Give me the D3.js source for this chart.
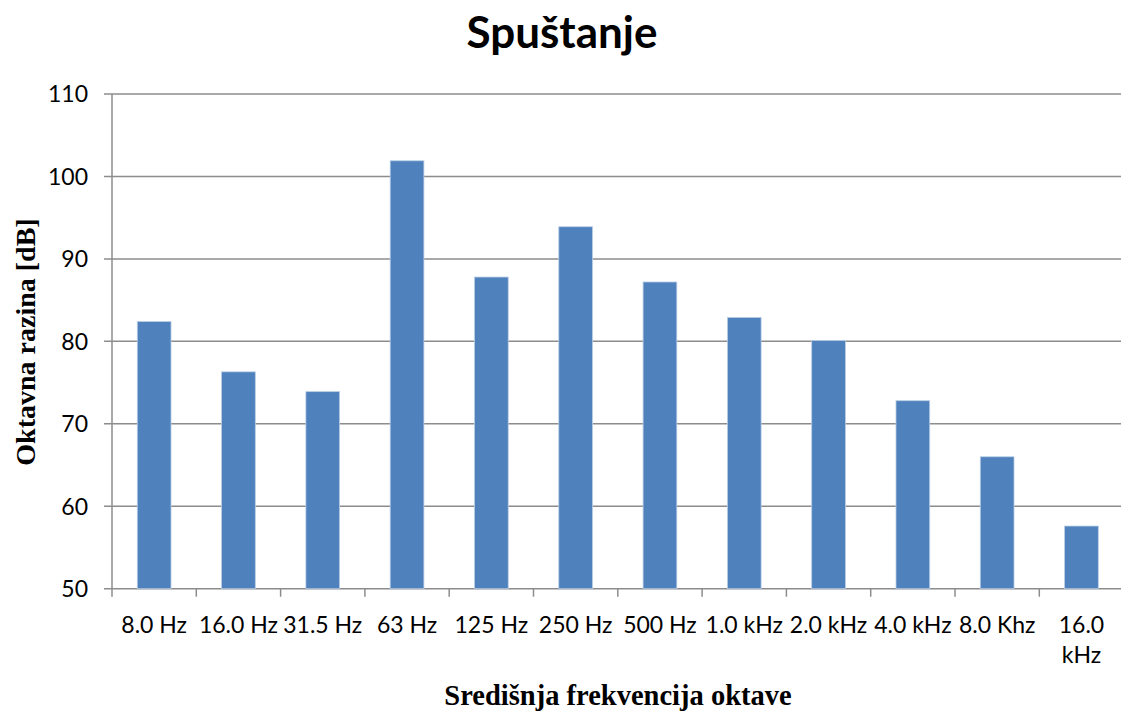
<!DOCTYPE html>
<html>
<head>
<meta charset="utf-8">
<script src="https://cdn.jsdelivr.net/npm/d3@7"></script>
<style>
	body { margin: 0; background: #fff; }
	svg { display: block; }
</style>
</head>
<body>
<svg id="svg" width="1121" height="713"></svg>
<script>
"use strict";

// chart data
const categories = ["8.0 Hz", "16.0 Hz", "31.5 Hz", "63 Hz", "125 Hz", "250 Hz", "500 Hz", "1.0 kHz", "2.0 kHz", "4.0 kHz", "8.0 Khz", "16.0 kHz"];
const values = [82.4, 76.3, 73.9, 101.9, 87.8, 93.9, 87.2, 82.9, 80.1, 72.8, 66.0, 57.6];
const yTicks = [50, 60, 70, 80, 90, 100, 110];

const svg = d3.select("#svg");

// plot area
const plot = { left: 112, top: 94, bottom: 588.7, right: 1123.6 };

const x = d3.scaleBand().domain(categories).range([plot.left, plot.right]).paddingInner(0.6).paddingOuter(0.3);
const y = d3.scaleLinear().domain([50, 110]).range([plot.bottom, plot.top]);

const gridColor = "#8c8c8c";
const labelFont = "Lato, 'Open Sans', sans-serif";
const serif = "'Liberation Serif', 'Times New Roman', serif";

// gridlines
svg.append("g")
	.selectAll("line")
	.data(yTicks)
	.enter()
	.append("line")
	.attr("x1", plot.left - 8)
	.attr("x2", plot.right)
	.attr("y1", (d) => y(d))
	.attr("y2", (d) => y(d))
	.style("stroke", gridColor)
	.style("stroke-width", "1.5px");

// bars
svg.append("g")
	.selectAll("rect")
	.data(values)
	.enter()
	.append("rect")
	.attr("x", (d, i) => x(categories[i]))
	.attr("width", x.bandwidth())
	.attr("y", (d) => y(d))
	.attr("height", (d) => y(50) - y(d))
	.style("fill", "#4f81bd")
	.style("stroke", "#b9cde5")
	.style("stroke-width", "0.8px");

// y axis line
svg.append("line")
	.attr("x1", plot.left).attr("x2", plot.left)
	.attr("y1", plot.top).attr("y2", plot.bottom)
	.style("stroke", gridColor)
	.style("stroke-width", "1.5px");

// x axis ticks at band boundaries
const step = x.step();
svg.append("g")
	.selectAll("line")
	.data(d3.range(categories.length + 1))
	.enter()
	.append("line")
	.attr("x1", (i) => plot.left + i * step)
	.attr("x2", (i) => plot.left + i * step)
	.attr("y1", plot.bottom)
	.attr("y2", plot.bottom + 8)
	.style("stroke", gridColor)
	.style("stroke-width", "1.5px");

// y tick labels
svg.append("g")
	.selectAll("text")
	.data(yTicks)
	.enter()
	.append("text")
	.text((d) => d)
	.attr("x", 88)
	.attr("y", (d) => y(d))
	.attr("dy", "0.36em")
	.attr("text-anchor", "end")
	.style("font-family", labelFont)
	.style("font-size", "23px")
	.style("fill", "#000");

// x tick labels (last one wraps)
const xl = svg.append("g")
	.selectAll("text")
	.data(categories)
	.enter()
	.append("text")
	.attr("text-anchor", "middle")
	.attr("x", (d) => x(d) + x.bandwidth() / 2)
	.attr("y", 633)
	.style("font-family", labelFont)
	.style("font-size", "23px")
	.style("fill", "#000");

xl.each(function (d, i) {
	const t = d3.select(this);
	const lines = i === categories.length - 1 ? d.split(" ") : [d];
	lines.forEach((s, j) => {
		t.append("tspan")
			.attr("x", x(d) + x.bandwidth() / 2)
			.attr("dy", j === 0 ? 0 : 30)
			.text(s);
	});
});

// title
svg.append("text")
	.text("Spuštanje")
	.attr("x", 562)
	.attr("y", 48)
	.attr("text-anchor", "middle")
	.style("font-family", labelFont)
	.style("font-weight", "bold")
	.style("font-size", "44px");

// axis titles
svg.append("text")
	.text("Središnja frekvencija oktave")
	.attr("x", 618)
	.attr("y", 705)
	.attr("text-anchor", "middle")
	.style("font-family", serif)
	.style("font-weight", "bold")
	.style("font-size", "28.5px");

svg.append("text")
	.text("Oktavna razina [dB]")
	.attr("transform", "translate(35,342) rotate(-90)")
	.attr("text-anchor", "middle")
	.style("font-family", serif)
	.style("font-weight", "bold")
	.style("font-size", "28px");
</script>
</body>
</html>
